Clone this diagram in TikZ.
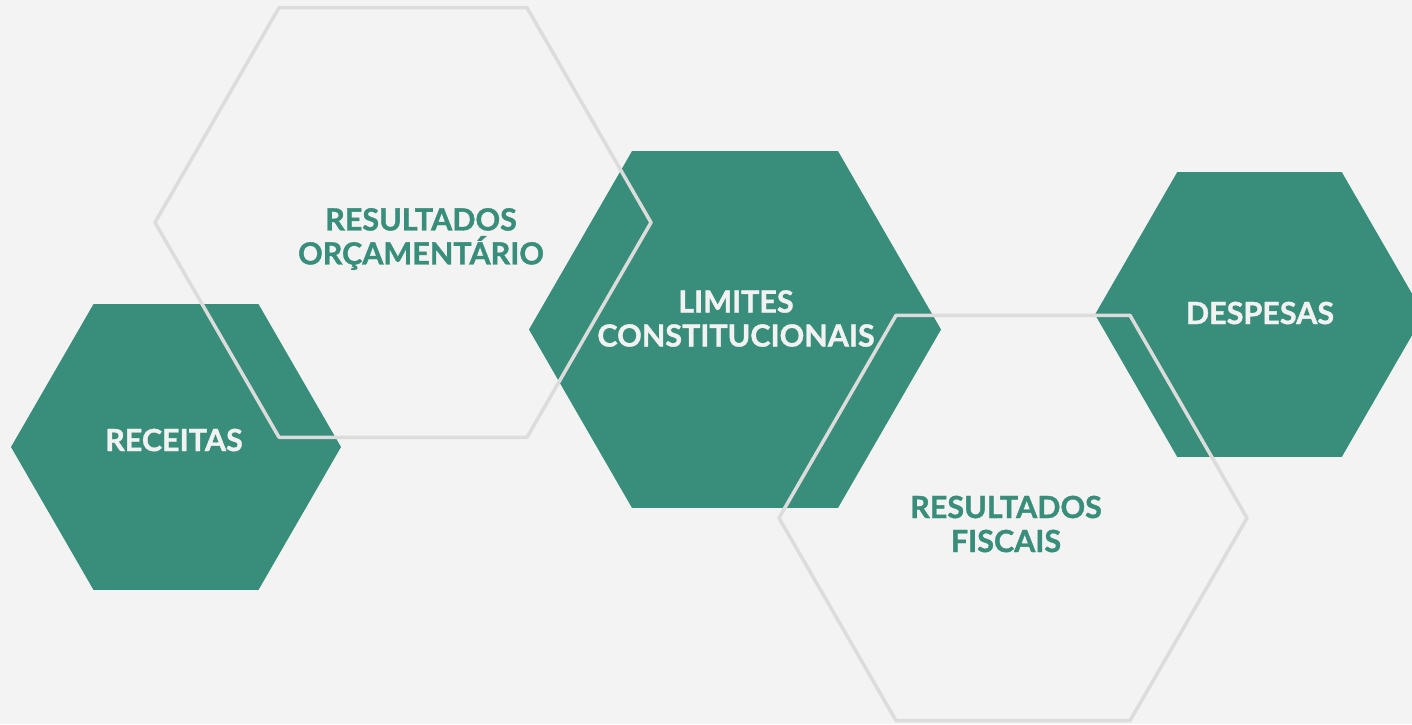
\documentclass[tikz,border=0pt]{standalone}
\usepackage{fontspec}
\setmainfont{Lato}
\newfontfamily\labelfont[BoldFeatures={FakeBold=1.2}]{Lato}
\definecolor{bg}{HTML}{F3F3F3}
\definecolor{teal}{HTML}{388E7A}
\definecolor{edge}{HTML}{DCDCDC}
\definecolor{lighttext}{HTML}{F2F2F2}
\tikzset{
  greenhex/.style={fill=teal, draw=none},
  linehex/.style={draw=edge, line width=3.5pt, line join=round, fill=none},
  labelw/.style={text=lighttext, font=\labelfont\fontsize{30.5}{34}\selectfont\bfseries, align=center, inner sep=0pt},
  labelg/.style={text=teal, font=\labelfont\fontsize{30.5}{34}\selectfont\bfseries, align=center, inner sep=0pt},
}
\begin{document}
\begin{tikzpicture}[x=1pt,y=-1pt]
\useasboundingbox (0,0) rectangle (1412,724);
\fill[bg] (0,0) rectangle (1412,724);
\clip (0,0) rectangle (1412,724);
% green hexagons
\draw[greenhex] (176,447) +(0:165) -- +(60:165) -- +(120:165) -- +(180:165) -- +(240:165) -- +(300:165) -- cycle;
\draw[greenhex] (735,329.5) +(0:206) -- +(60:206) -- +(120:206) -- +(180:206) -- +(240:206) -- +(300:206) -- cycle;
\draw[greenhex] (1259.5,314.5) +(0:164.5) -- +(60:164.5) -- +(120:164.5) -- +(180:164.5) -- +(240:164.5) -- +(300:164.5) -- cycle;
% outline hexagons
\draw[linehex] (403,222.5) +(0:248) -- +(60:248) -- +(120:248) -- +(180:248) -- +(240:248) -- +(300:248) -- cycle;
\draw[linehex] (1013,518) +(0:234) -- +(60:234) -- +(120:234) -- +(180:234) -- +(240:234) -- +(300:234) -- cycle;
% labels
\node[labelw] (receitas) at (174,440) {RECEITAS};
\node[labelg] (orcamento) at (421,239) {RESULTADOS\\ORÇAMENTÁRIO};
\node[labelw] (limites) at (736,318.5) {LIMITES\\CONSTITUCIONAIS};
\node[labelw] (despesas) at (1260,313) {DESPESAS};
\node[labelg] (fiscais) at (1006,524) {RESULTADOS\\FISCAIS};
\end{tikzpicture}
\end{document}
